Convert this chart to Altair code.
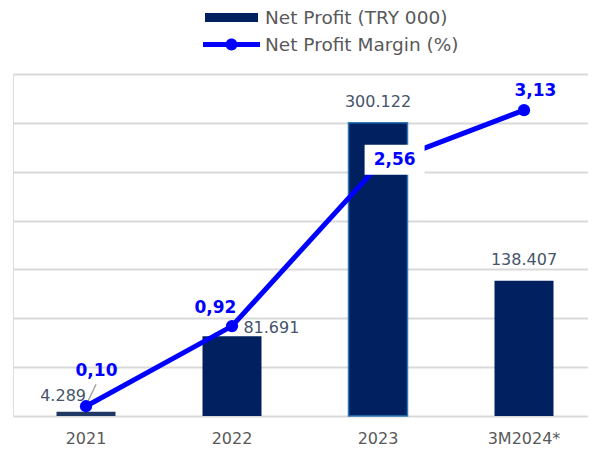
import altair as alt
import pandas as pd

years = ["2021", "2022", "2023", "3M2024*"]
net_profit = [4289, 81691, 300122, 138407]
net_margin = [0.10, 0.92, 2.56, 3.13]
bar_series = "Net Profit (TRY 000)"
line_series = "Net Profit Margin (%)"
grid_values = [0, 50000, 100000, 150000, 200000, 250000, 300000, 350000]

df = pd.DataFrame({"year": years, "profit": net_profit, "margin": net_margin,
                   "s1": bar_series, "s2": line_series})

FONT = "DejaVu Sans"
LBL = "#595959"

x_axis = alt.X("year:N", sort=years,
               scale=alt.Scale(paddingInner=0, paddingOuter=0, range=[0, 584]),
               axis=alt.Axis(title=None, labelAngle=0, labelFontSize=16, labelColor=LBL,
                             labelFont=FONT, ticks=False, domain=False, labelPadding=14,
                             grid=False))
x_plain = alt.X("year:N", sort=years)
y_profit_axis = alt.Y("profit:Q", scale=alt.Scale(domain=[0, 350000], nice=False),
                      axis=alt.Axis(title=None, labels=False, ticks=False, domain=False,
                                    grid=True, gridColor="#d9d9d9", gridWidth=2,
                                    values=grid_values))
y_profit = alt.Y("profit:Q", scale=alt.Scale(domain=[0, 350000], nice=False), axis=None)
y_margin = alt.Y("margin:Q", scale=alt.Scale(domain=[0, 3.5], nice=False), axis=None)

base = alt.Chart(df)

bars = base.mark_bar(size=59, strokeWidth=1.5).encode(
    x=x_axis,
    y=y_profit_axis,
    color=alt.condition(
        "datum.year == '2021'", alt.value("#1f3864"),
        alt.Color("s1:N", scale=alt.Scale(domain=[bar_series], range=["#002060"]),
                  legend=alt.Legend(title=None, orient="none", legendX=192, legendY=-83,
                                    symbolType="M-1,-0.17H1V0.17H-1Z", symbolSize=2809,
                                    symbolStrokeWidth=0, symbolOpacity=1,
                                    labelFontSize=18.5, labelFont=FONT, labelColor=LBL,
                                    labelOffset=7, labelLimit=0, padding=0))),
    stroke=alt.condition("datum.year == '2023'", alt.value("#2e75b6"), alt.value("transparent")),
)

line = base.mark_line(color="#0000ff", strokeWidth=5).encode(x=x_plain, y=y_margin)

points = base.mark_point(filled=True, size=150, opacity=1).encode(
    x=x_plain, y=y_margin,
    fill=alt.Fill("s2:N", scale=alt.Scale(domain=[line_series], range=["#0000ff"]),
                  legend=alt.Legend(title=None, orient="none", legendX=190, legendY=-58,
                                    symbolType="M-1,-0.088H1V0.088H-1Z M-0.21,0A0.21,0.21 0 1,1 0.21,0A0.21,0.21 0 1,1 -0.21,0Z",
                                    symbolSize=3249, symbolStrokeWidth=0, symbolOpacity=1,
                                    labelFontSize=18.5, labelFont=FONT, labelColor=LBL,
                                    labelOffset=5, labelLimit=0, padding=0)),
)


def profit_label(year, dx, dy, align="center"):
    return base.transform_filter(alt.datum.year == year).transform_calculate(
        lbl="replace(format(datum.profit, ','), ',', '.')"
    ).mark_text(dx=dx, dy=dy, align=align, baseline="middle", font=FONT, fontSize=16,
                color="#44546a").encode(x=x_plain, y=y_profit, text="lbl:N")


def margin_label(year, dx, dy):
    return base.transform_filter(alt.datum.year == year).transform_calculate(
        lbl="replace(format(datum.margin, '.2f'), '.', ',')"
    ).mark_text(dx=dx, dy=dy, align="center", baseline="middle", font=FONT, fontSize=17,
                fontWeight="bold", color="#0000ff").encode(x=x_plain, y=y_margin, text="lbl:N")


leader = base.transform_filter(alt.datum.year == "2021").mark_point(
    shape="M0.083,-0.208L0.417,-0.917", size=2304, filled=False, stroke="#a6a6a6",
    strokeWidth=1.5, opacity=1
).encode(x=x_plain, y=y_margin)

box = base.transform_filter(alt.datum.year == "2023").mark_point(
    shape="M-1,-0.5H1V0.5H-1Z", size=3600, filled=True, color="white", opacity=1,
    xOffset=16.6, yOffset=-6
).encode(x=x_plain, y=y_margin)

chart = alt.layer(
    bars,
    profit_label("2021", 0, -16, "right"),
    profit_label("2022", 11.4, -8, "left"),
    profit_label("2023", 0, -21),
    profit_label("3M2024*", 0, -21),
    leader,
    line,
    points,
    box,
    margin_label("2021", 10.5, -35),
    margin_label("2022", -16.6, -18),
    margin_label("2023", 16.6, -6),
    margin_label("3M2024*", 11.4, -19),
).resolve_scale(y="independent").properties(
    width=575, height=342,
    autosize=alt.AutoSizeParams(type="none"),
    padding={"left": 5, "top": 66, "right": 0, "bottom": 33},
).configure_view(stroke=None).configure(background="white")

chart.save("out.html", embed_options={"renderer": "svg", "actions": False})
